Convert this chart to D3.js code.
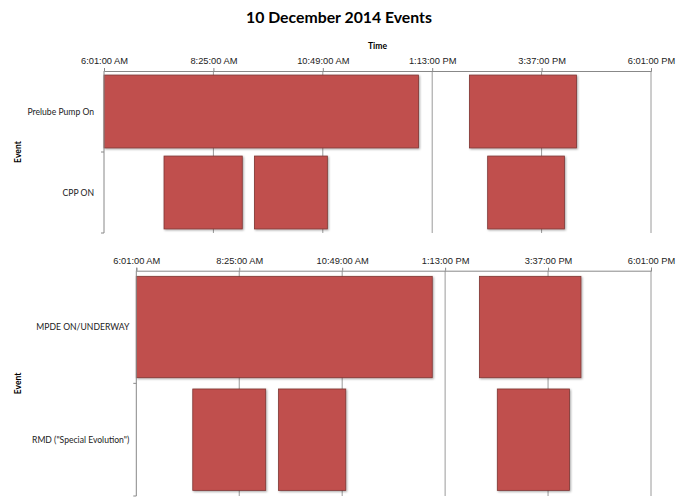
<!DOCTYPE html>
<html>
<head>
<meta charset="utf-8">
<script src="https://cdn.jsdelivr.net/npm/d3@7"></script>
<style>
  body { margin: 0; background: #fff; }
  svg { font-family: Lato, "Open Sans", sans-serif; }
</style>
</head>
<body>
<svg id="chart" width="677" height="497"></svg>
<script>
// data
var tickLabels = ["6:01:00 AM", "8:25:00 AM", "10:49:00 AM", "1:13:00 PM", "3:37:00 PM", "6:01:00 PM"];

var eventsTop = ["Prelube Pump On", "CPP ON"];
var eventsBottom = ["MPDE ON/UNDERWAY", "RMD (\"Special Evolution\")"];

var prelubeOn = [["6:01 AM", "12:55 PM"], ["2:02 PM", "4:23 PM"]];
var cppOn = [["7:20 AM", "9:03 AM"], ["9:19 AM", "10:55 AM"], ["2:26 PM", "4:07 PM"]];
var mpdeOn = [["6:01 AM", "12:55 PM"], ["2:01 PM", "4:23 PM"]];
var rmdOn = [["7:20 AM", "9:02 AM"], ["9:20 AM", "10:54 AM"], ["2:26 PM", "4:07 PM"]];

var parseTick = d3.timeParse("%I:%M:%S %p"),
    parseTime = d3.timeParse("%I:%M %p"),
    formatTick = d3.timeFormat("%-I:%M:%S %p");

var tickTimes = tickLabels.map(parseTick);

var svg = d3.select("#chart");

svg.append("text")
    .attr("x", 339)
    .attr("y", 23)
    .attr("text-anchor", "middle")
    .style("font-size", "15.8px")
    .style("font-weight", "bold")
    .text("10 December 2014 Events");

function drawPanel(opt) {
    var x = d3.scaleTime()
        .domain([tickTimes[0], tickTimes[tickTimes.length - 1]])
        .range([opt.left, opt.right]);

    var y = d3.scaleBand()
        .domain(opt.events)
        .range([opt.top, opt.bottom]);

    var g = svg.append("g");

    // grid lines behind the bars
    g.append("g")
        .selectAll("line")
        .data(tickTimes.slice(1))
        .enter().append("line")
        .attr("x1", function (d) { return x(d); })
        .attr("x2", function (d) { return x(d); })
        .attr("y1", opt.top)
        .attr("y2", opt.bottom)
        .attr("stroke", "#9a9a9a")
        .attr("stroke-width", 1);

    // bars
    var rows = opt.events.map(function (e, i) {
        return opt.series[i].map(function (s) {
            return {event: e, start: parseTime(s[0]), end: parseTime(s[1])};
        });
    });
    var pad = y.bandwidth() * 0.05;

    g.append("g")
        .selectAll("rect")
        .data(d3.merge(rows))
        .enter().append("rect")
        .attr("x", function (d) { return x(d.start); })
        .attr("width", function (d) { return x(d.end) - x(d.start); })
        .attr("y", function (d) { return y(d.event) + pad; })
        .attr("height", y.bandwidth() - 2 * pad)
        .attr("fill", "#c0504d")
        .attr("stroke", "#7f3633")
        .attr("stroke-width", 0.8)
        .style("filter", "url(#shadow)");

    // x axis on top
    var xAxis = g.append("g")
        .attr("transform", "translate(0," + opt.top + ")")
        .call(d3.axisTop(x).tickValues(tickTimes).tickFormat(formatTick).tickSize(3).tickPadding(4));
    xAxis.select(".domain").attr("stroke", "#888");
    xAxis.selectAll(".tick line").attr("stroke", "#888");
    xAxis.selectAll("text")
        .style("font-size", "9.3px")
        .attr("fill", "#222");

    // y axis on the left
    g.append("line")
        .attr("x1", opt.left).attr("x2", opt.left)
        .attr("y1", opt.top).attr("y2", opt.bottom)
        .attr("stroke", "#888");

    g.append("g")
        .selectAll("line")
        .data(opt.events)
        .enter().append("line")
        .attr("x1", opt.left - 3).attr("x2", opt.left)
        .attr("y1", function (d) { return y(d) + y.bandwidth(); })
        .attr("y2", function (d) { return y(d) + y.bandwidth(); })
        .attr("stroke", "#888");

    g.append("g")
        .selectAll("text")
        .data(opt.events)
        .enter().append("text")
        .attr("x", opt.left - opt.labelGap)
        .attr("y", function (d) { return y(d) + y.bandwidth() / 2; })
        .attr("dy", "0.35em")
        .attr("text-anchor", "end")
        .style("font-size", "8.6px")
        .attr("fill", "#222")
        .text(function (d) { return d; });

    g.append("text")
        .attr("transform", "translate(21," + (opt.top + opt.bottom) / 2 + ") rotate(-90)")
        .attr("text-anchor", "middle")
        .style("font-size", "8.6px")
        .style("font-weight", "bold")
        .text("Event");

    if (opt.title) {
        g.append("text")
            .attr("x", (opt.left + opt.right) / 2)
            .attr("y", opt.top - 22)
            .attr("text-anchor", "middle")
            .style("font-size", "8.6px")
            .style("font-weight", "bold")
            .text(opt.title);
    }
}

var defs = svg.append("defs");
var f = defs.append("filter").attr("id", "shadow")
    .attr("x", "-5%").attr("y", "-5%").attr("width", "115%").attr("height", "115%");
f.append("feDropShadow")
    .attr("dx", 1).attr("dy", 1).attr("stdDeviation", 0.8)
    .attr("flood-color", "#000").attr("flood-opacity", 0.35);

drawPanel({events: eventsTop, series: [prelubeOn, cppOn], labelGap: 10,
    left: 104, right: 651, top: 71, bottom: 233, title: "Time"});
drawPanel({events: eventsBottom, series: [mpdeOn, rmdOn], labelGap: 7,
    left: 136.3, right: 651, top: 270.7, bottom: 496});
</script>
</body>
</html>
